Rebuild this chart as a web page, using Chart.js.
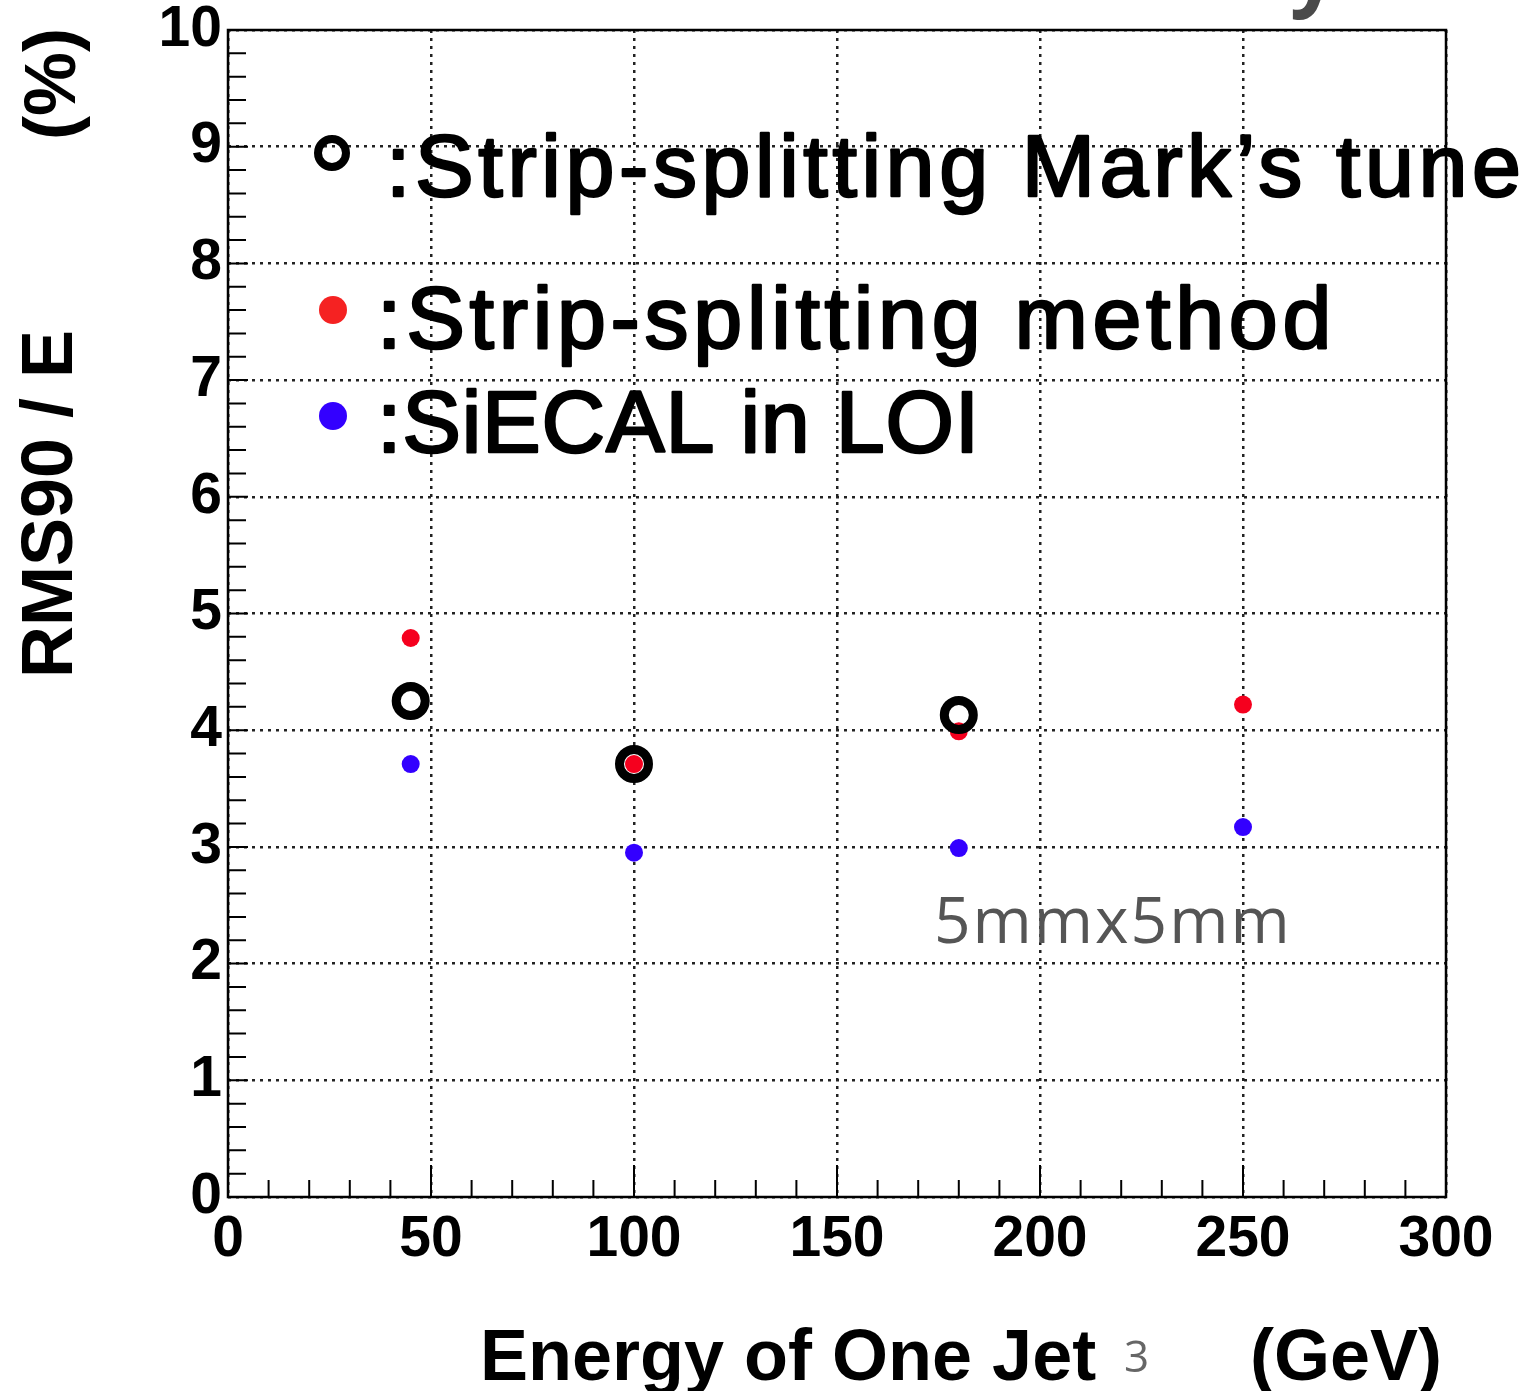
<!DOCTYPE html>
<html>
<head>
<meta charset="utf-8">
<script src="https://cdn.jsdelivr.net/npm/chart.js@4/dist/chart.umd.min.js"></script>
<style>
  html, body { margin: 0; padding: 0; background: #fff; }
  canvas { display: block; }
</style>
</head>
<body>
<canvas id="c" width="1534" height="1391"></canvas>
<script>
// Energy of one jet (GeV)
const markEnergy = [45, 100, 180];
const markRms = [4.25, 3.71, 4.13];          // Strip-splitting Mark's tune
const splitEnergy = [45, 100, 180, 250];
const splitRms = [4.79, 3.71, 3.99, 4.22];   // Strip-splitting method
const loiEnergy = [45, 100, 180, 250];
const loiRms = [3.71, 2.95, 2.99, 3.17];     // SiECAL in LOI

const legendLabels = [':Strip-splitting Mark\u2019s tune', ':Strip-splitting method', ':SiECAL in LOI'];

const toPoints = (xs, ys) => xs.map((x, i) => ({ x, y: ys[i] }));

const RED = '#f5001e';
const BLUE = '#3300ff';

// ROOT-style frame, inner ticks, titles and legend
const rootDecor = {
  id: 'rootDecor',
  afterDraw(chart) {
    const { ctx, chartArea: a, scales: { x, y } } = chart;
    ctx.save();

    // ticks pointing into the frame
    ctx.strokeStyle = '#000';
    ctx.lineWidth = 2;
    ctx.beginPath();
    for (let v = 0; v <= 300.001; v += 10) {
      const px = x.getPixelForValue(v);
      const len = Math.abs(v % 50) < 1e-6 ? 32 : 17;
      ctx.moveTo(px, a.bottom);
      ctx.lineTo(px, a.bottom - len);
    }
    for (let v = 0; v <= 10.001; v += 0.2) {
      const py = y.getPixelForValue(v);
      const major = Math.abs(v - Math.round(v)) < 1e-6;
      ctx.moveTo(a.left, py);
      ctx.lineTo(a.left + (major ? 20 : 18), py);
    }
    ctx.stroke();

    // frame
    ctx.lineWidth = 2.5;
    ctx.strokeRect(a.left, a.top, a.right - a.left, a.bottom - a.top);

    // axis titles
    ctx.fillStyle = '#000';
    ctx.font = 'bold 72px "Liberation Sans", Arial, sans-serif';
    ctx.textBaseline = 'middle';
    ctx.textAlign = 'center';
    ctx.save();
    ctx.translate(52, 504);
    ctx.rotate(-Math.PI / 2);
    ctx.fillText('RMS90 / E', 0, 0);
    ctx.restore();
    ctx.save();
    ctx.translate(55, 84);
    ctx.rotate(-Math.PI / 2);
    ctx.fillText('(%)', 0, 0);
    ctx.restore();

    ctx.textBaseline = 'alphabetic';
    ctx.textAlign = 'left';
    ctx.fillText('Energy of One Jet', 480, 1380);
    ctx.fillText('(GeV)', 1250, 1380);

    ctx.fillStyle = '#666';
    ctx.font = '44px "Open Sans", sans-serif';
    ctx.fillText('3', 1124, 1372);

    // cut-off slide title descender
    ctx.fillStyle = '#4a4a4a';
    ctx.font = 'bold 84px "Open Sans", sans-serif';
    ctx.fillText('y', 1290, 0);

    // annotation
    ctx.fillStyle = '#555';
    ctx.font = '64px "Open Sans", sans-serif';
    ctx.letterSpacing = '2px';
    ctx.fillText('5mmx5mm', 934, 943);

    // legend
    ctx.fillStyle = '#000';
    ctx.strokeStyle = '#000';
    ctx.lineWidth = 2.5;
    ctx.lineJoin = 'round';
    ctx.font = '88px "Liberation Sans", Arial, sans-serif';
    const rows = [[386, 196, '4.6px'], [377, 348, '4.7px'], [377, 452, '0.8px']];
    rows.forEach(([lx, ly, sp], i) => {
      ctx.letterSpacing = sp;
      ctx.fillText(legendLabels[i], lx, ly);
      ctx.strokeText(legendLabels[i], lx, ly);
    });
    ctx.letterSpacing = '0px';

    ctx.lineWidth = 8;
    ctx.beginPath();
    ctx.arc(332, 153, 14, 0, Math.PI * 2);
    ctx.stroke();
    ctx.fillStyle = '#f52222';
    ctx.beginPath();
    ctx.arc(333, 310, 14, 0, Math.PI * 2);
    ctx.fill();
    ctx.fillStyle = BLUE;
    ctx.beginPath();
    ctx.arc(333, 416, 14, 0, Math.PI * 2);
    ctx.fill();

    ctx.restore();
  }
};

new Chart(document.getElementById('c'), {
  type: 'scatter',
  data: {
    datasets: [
      {
        label: legendLabels[0],
        data: toPoints(markEnergy, markRms),
        pointRadius: 14.5,
        pointBorderWidth: 9,
        pointBorderColor: '#000',
        pointBackgroundColor: 'rgba(0,0,0,0)',
        pointHoverRadius: 14.5
      },
      {
        label: legendLabels[1],
        data: toPoints(splitEnergy, splitRms),
        pointRadius: 9,
        pointBorderWidth: 0,
        pointBackgroundColor: RED,
        pointHoverRadius: 9
      },
      {
        label: legendLabels[2],
        data: toPoints(loiEnergy, loiRms),
        pointRadius: 9,
        pointBorderWidth: 0,
        pointBackgroundColor: BLUE,
        pointHoverRadius: 9
      }
    ]
  },
  options: {
    responsive: false,
    animation: false,
    layout: { padding: { top: 30, right: 88, left: 0, bottom: 0 } },
    plugins: { legend: { display: false }, tooltip: { enabled: false } },
    scales: {
      x: {
        type: 'linear',
        min: 0,
        max: 300,
        afterFit: (s) => { s.height = 194; s.paddingLeft = 0; s.paddingRight = 0; },
        ticks: {
          stepSize: 50,
          padding: 9,
          color: '#000',
          maxRotation: 0,
          font: { family: '"Liberation Sans", Arial, sans-serif', size: 57, weight: 'bold' }
        },
        grid: { color: '#222', lineWidth: 2.5, drawTicks: false },
        border: { display: false, dash: [3, 5] }
      },
      y: {
        min: 0,
        max: 10,
        afterFit: (s) => { s.width = 228; s.paddingTop = 0; s.paddingBottom = 0; },
        ticks: {
          stepSize: 1,
          padding: 6,
          color: '#000',
          font: { family: '"Liberation Sans", Arial, sans-serif', size: 57, weight: 'bold' }
        },
        grid: { color: '#222', lineWidth: 2.5, drawTicks: false },
        border: { display: false, dash: [3, 5] }
      }
    }
  },
  plugins: [rootDecor]
});
</script>
</body>
</html>
